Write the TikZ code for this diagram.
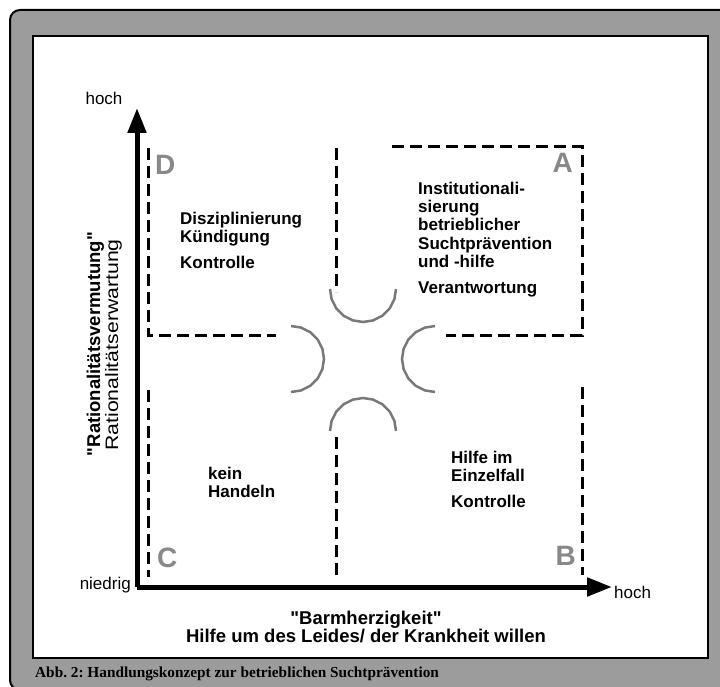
\documentclass[tikz,border=0pt]{standalone}
\usepackage{fontspec}
\setmainfont{Liberation Sans}[Ligatures=TeXOff]
\newfontfamily\capfont{Liberation Serif}
\usetikzlibrary{arrows.meta}
\definecolor{bggray}{RGB}{156,156,156}
\definecolor{lettergray}{RGB}{136,136,136}
\definecolor{arcgray}{RGB}{120,120,120}
\tikzset{
  quadtext/.style={inner sep=0pt, anchor=base west, font=\bfseries\fontsize{17}{18}\selectfont},
  axislabel/.style={inner sep=0pt, font=\fontsize{17}{18}\selectfont},
  qletter/.style={inner sep=0pt, text=lettergray, font=\bfseries\fontsize{28}{30}\selectfont},
  divline/.style={line width=3pt, dash pattern=on 12pt off 6pt},
  bowl/.style={draw=arcgray, line width=2.5pt},
  axisline/.style={line width=5pt, -{Triangle[length=25pt,width=18pt]}}
}
\begin{document}
\frenchspacing
\begin{tikzpicture}[x=1pt,y=-1pt]
\useasboundingbox (0,0) rectangle (720,687);
% frames
\draw[fill=bggray, draw=black, line width=2pt, rounded corners=10pt] (10,10) rectangle (745,690);
\draw[fill=white, draw=black, line width=2.5pt] (33,36) rectangle (708,658);
\node[inner sep=0pt, anchor=base west, font=\capfont\bfseries\fontsize{15.3}{16}\selectfont] (cap) at (35,677) {Abb. 2: Handlungskonzept zur betrieblichen Suchtprävention};
% axes
\coordinate (origin) at (137,587);
\coordinate (ytip) at (137,108);
\coordinate (xtip) at (612,587);
\draw[axisline] (origin) -- (ytip);
\draw[axisline] (origin) -- (xtip);
\node[axislabel, anchor=base] (yhigh) at (104,105) {hoch};
\node[axislabel, anchor=base east] (ylow) at (131,589) {niedrig};
\node[axislabel, anchor=base west] (xhigh) at (614,598) {hoch};
% axis titles
\node[inner sep=0pt, anchor=base, font=\bfseries\fontsize{18.5}{18}\selectfont] (xt1) at (366,624) {"Barmherzigkeit"};
\node[inner sep=0pt, anchor=base, font=\bfseries\fontsize{18.5}{18}\selectfont] (xt2) at (366,642) {Hilfe um des Leides/ der Krankheit willen};
\node[inner sep=0pt, rotate=90, anchor=base, font=\bfseries\fontsize{18.5}{18}\selectfont] (yt1) at (100,344) {"Rationalitätsvermutung"};
\node[inner sep=0pt, rotate=90, anchor=base, font=\fontsize{18}{18}\selectfont] (yt2) at (118,345) {\scalebox{1.18}[1]{Rationalitätserwartung}};
% dashed dividers
\coordinate (d1) at (148,148); \coordinate (d2) at (148,335); \coordinate (d3) at (276,335);
\draw[divline] (d1) -- (d2) -- (d3);
\coordinate (m1) at (336,148); \coordinate (m2) at (336,292);
\draw[divline] (m1) -- (m2);
\coordinate (a1) at (392,147); \coordinate (a2) at (582,147); \coordinate (a3) at (582,335); \coordinate (a4) at (446,335);
\draw[divline] (a1) -- (a2) -- (a3) -- (a4);
\coordinate (c1) at (148,390); \coordinate (c2) at (148,577);
\draw[divline] (c1) -- (c2);
\coordinate (m3) at (336,437); \coordinate (m4) at (336,575);
\draw[divline] (m3) -- (m4);
\coordinate (b1) at (582,387); \coordinate (b2) at (582,575);
\draw[divline] (b1) -- (b2);
% arcs
\draw[bowl] plot[domain=0:180, samples=11] ({363+33*cos(\x)},{289+33*sin(\x)});
\draw[bowl] plot[domain=180:360, samples=11] ({363+33*cos(\x)},{431+33*sin(\x)});
\draw[bowl] plot[domain=-90:90, samples=11] ({291+33*cos(\x)},{359+33*sin(\x)});
\draw[bowl] plot[domain=90:270, samples=11] ({435+33*cos(\x)},{359+33*sin(\x)});
% quadrant letters
\node[qletter, anchor=west] (lD) at (155,165) {D};
\node[qletter, anchor=east] (lA) at (573,163) {A};
\node[qletter, anchor=west] (lC) at (157,558) {C};
\node[qletter, anchor=east] (lB) at (576,556) {B};
% quadrant D
\node[quadtext] (d-1) at (180,225) {Disziplinierung};
\node[quadtext] (d-2) at (180,243) {Kündigung};
\node[quadtext] (d-3) at (180,268) {Kontrolle};
% quadrant A
\node[quadtext] (a-1) at (418,195) {Institutionali-};
\node[quadtext] (a-2) at (418,212) {sierung};
\node[quadtext] (a-3) at (418,230) {betrieblicher};
\node[quadtext] (a-4) at (418,249) {Suchtprävention};
\node[quadtext] (a-5) at (418,267) {und -hilfe};
\node[quadtext] (a-6) at (418,293) {Verantwortung};
% quadrant C
\node[quadtext] (c-1) at (208,479) {kein};
\node[quadtext] (c-2) at (208,497) {Handeln};
% quadrant B
\node[quadtext] (b-1) at (451,463) {Hilfe im};
\node[quadtext] (b-2) at (451,481) {Einzelfall};
\node[quadtext] (b-3) at (451,507) {Kontrolle};
\end{tikzpicture}
\end{document}
